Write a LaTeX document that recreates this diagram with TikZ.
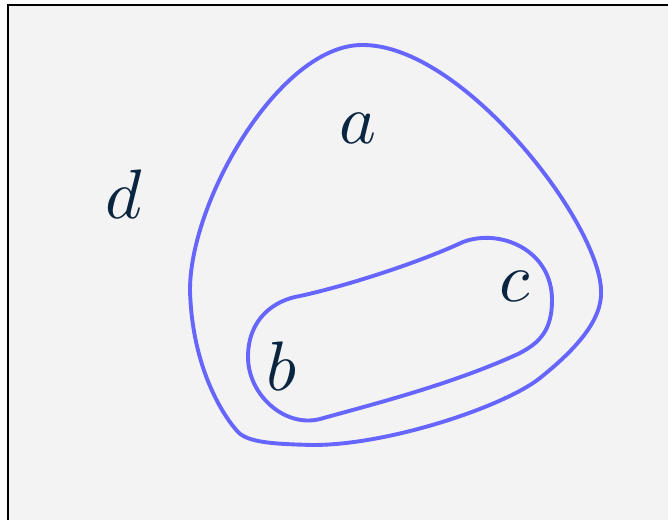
\documentclass[tikz,border=0pt]{standalone}
\usepackage{graphicx}
\definecolor{bg}{RGB}{243,243,243}
\definecolor{setline}{RGB}{102,102,255}
\definecolor{ink}{RGB}{10,37,64}
\newcommand{\biglbl}[1]{\scalebox{7}{$#1$}}
\tikzset{
  setcurve/.style={draw=setline, line width=3.9pt},
  lbl/.style={text=ink, inner sep=0pt}
}
\begin{document}
\begin{tikzpicture}[x=1pt,y=-1pt]
\useasboundingbox (0,0) rectangle (668,519);
\begin{scope}
\clip (0,0) rectangle (668,519);
\fill[white] (0,0) rectangle (668,519);
\draw[fill=bg, line width=2pt] (7.5,5) rectangle (690,540);
\end{scope}
% outer set
\draw[setcurve] (362,45)
  .. controls (462,44) and (599,222) .. (601,290)
  .. controls (603,320) and (575,350) .. (540,378)
  .. controls (505,406) and (390,445) .. (313,445)
  .. controls (270,444) and (248,442) .. (238,432)
  .. controls (225,418) and (192,370) .. (190,290)
  .. controls (190,200) and (280,45) .. cycle;
% inner set
\draw[setcurve] (300,296)
  .. controls (350,285) and (420,262) .. (463,242)
  .. controls (500,228) and (552,250) .. (552,300)
  .. controls (552,330) and (540,343) .. (518,354)
  .. controls (450,385) and (370,405) .. (320,419)
  .. controls (285,428) and (248,395) .. (248,357)
  .. controls (248,318) and (275,300) .. cycle;
\node[lbl] (a) at (358,128) {\biglbl{a}};
\node[lbl] (b) at (282,366) {\biglbl{b}};
\node[lbl] (c) at (515,286) {\biglbl{c}};
\node[lbl] (d) at (124,194) {\biglbl{d}};
\end{tikzpicture}
\end{document}
